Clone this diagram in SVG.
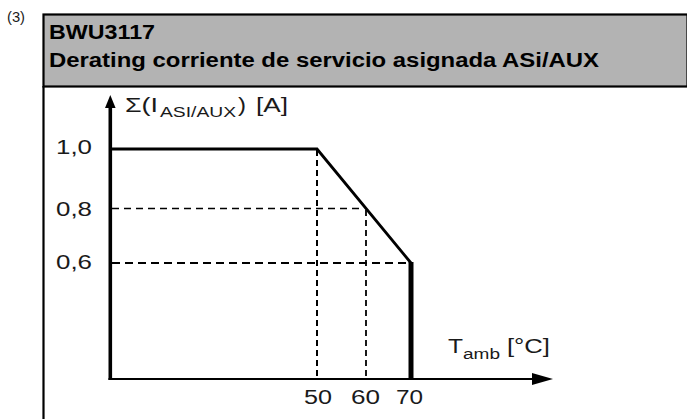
<svg xmlns="http://www.w3.org/2000/svg" width="687" height="419" viewBox="0 0 687 419">
<style>
text{font-family:"Liberation Sans",Arial,sans-serif;fill:#1a1a1a}
.t{font-weight:bold;font-size:20px;fill:#000}
.lbl{font-size:20px}
.sub{font-size:14px}
.dash{stroke:#000;fill:none}
</style>
<rect x="0" y="0" width="687" height="419" fill="#fff"/>
<text x="7" y="21.5" style="font-size:14px" textLength="18" lengthAdjust="spacingAndGlyphs">(3)</text>
<g id="header">
<rect x="43.5" y="14.5" width="644" height="72" fill="#b3b3b3" stroke="#000" stroke-width="2.2"/>
<text class="t" x="49" y="39.3" textLength="106" lengthAdjust="spacingAndGlyphs">BWU3117</text>
<text class="t" x="49" y="67" textLength="550" lengthAdjust="spacingAndGlyphs">Derating corriente de servicio asignada ASi/AUX</text>
</g>
<line x1="43.5" y1="86" x2="43.5" y2="419" stroke="#000" stroke-width="2.2"/>
<g id="grid">
<line class="dash" x1="112" y1="208.5" x2="364" y2="208.5" stroke-width="1.5" stroke-dasharray="7,5"/>
<line class="dash" x1="112" y1="263" x2="409" y2="263" stroke-width="2" stroke-dasharray="8,5"/>
<line class="dash" x1="317" y1="150" x2="317" y2="378" stroke-width="2" stroke-dasharray="6,4"/>
<line class="dash" x1="366" y1="210" x2="366" y2="378" stroke-width="1.8" stroke-dasharray="6,4" stroke="#333"/>
</g>
<g id="axes">
<line x1="110.3" y1="380" x2="110.3" y2="106" stroke="#000" stroke-width="3.6"/>
<polygon points="110.3,95 105,108 115.6,108" fill="#000"/>
<line x1="108.5" y1="379" x2="536" y2="379" stroke="#000" stroke-width="2"/>
<polygon points="553,379 532,373 532,385" fill="#000"/>
</g>
<g id="curve">
<polyline points="110,149 317,149 411,263" fill="none" stroke="#000" stroke-width="2.8" stroke-linejoin="miter"/>
<line x1="411" y1="262" x2="411" y2="379" stroke="#000" stroke-width="5"/>
</g>
<g id="labels">
<text class="lbl" x="56" y="153.5" textLength="36" lengthAdjust="spacingAndGlyphs">1,0</text>
<text class="lbl" x="56" y="216" textLength="36" lengthAdjust="spacingAndGlyphs">0,8</text>
<text class="lbl" x="56" y="269" textLength="36" lengthAdjust="spacingAndGlyphs">0,6</text>
<text class="lbl" x="304" y="403.5" textLength="28" lengthAdjust="spacingAndGlyphs">50</text>
<text class="lbl" x="351" y="403.5" textLength="29" lengthAdjust="spacingAndGlyphs">60</text>
<text class="lbl" x="396" y="403.5" textLength="27" lengthAdjust="spacingAndGlyphs">70</text>
<text class="lbl" x="125" y="111.7" textLength="33" lengthAdjust="spacingAndGlyphs">Σ(I</text>
<text class="sub" x="160" y="117" textLength="76" lengthAdjust="spacingAndGlyphs">ASI/AUX</text>
<text class="lbl" x="238" y="111.7" textLength="8" lengthAdjust="spacingAndGlyphs">)</text>
<text class="lbl" x="256" y="111.7" textLength="32" lengthAdjust="spacingAndGlyphs">[A]</text>
<text class="lbl" x="448" y="353" textLength="15" lengthAdjust="spacingAndGlyphs">T</text>
<text class="sub" x="463" y="358.5" textLength="37" lengthAdjust="spacingAndGlyphs">amb</text>
<text class="lbl" x="507" y="353" textLength="43" lengthAdjust="spacingAndGlyphs">[°C]</text>
</g>
</svg>
